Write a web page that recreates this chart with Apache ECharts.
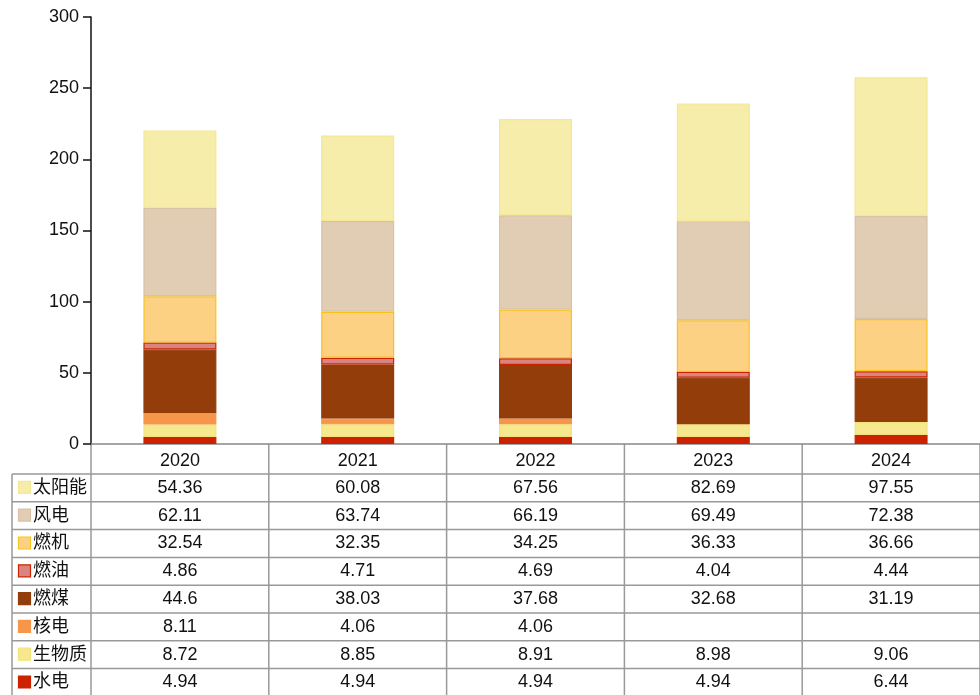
<!DOCTYPE html>
<html><head><meta charset="utf-8">
<script src="https://cdn.jsdelivr.net/npm/echarts@6/dist/echarts.min.js"></script>
<style>html,body{margin:0;padding:0;background:#fff}#c{width:980px;height:695px}</style>
</head><body><div id="c"></div>
<script>
var years = ['2020','2021','2022','2023','2024'];
var yTicks = [0,50,100,150,200,250,300];
var solar   = [54.36, 60.08, 67.56, 82.69, 97.55];
var wind    = [62.11, 63.74, 66.19, 69.49, 72.38];
var gas     = [32.54, 32.35, 34.25, 36.33, 36.66];
var oil     = [4.86, 4.71, 4.69, 4.04, 4.44];
var coal    = [44.6, 38.03, 37.68, 32.68, 31.19];
var nuclear = [8.11, 4.06, 4.06, null, null];
var biomass = [8.72, 8.85, 8.91, 8.98, 9.06];
var hydro   = [4.94, 4.94, 4.94, 4.94, 6.44];

// bottom to top
var seriesDefs = [
  {name:'水电', data:hydro, fill:'#CC2200', border:'#CC2200'},
  {name:'生物质', data:biomass, fill:'#F6E88C', border:'#F3E37A'},
  {name:'核电', data:nuclear, fill:'#F5964A', border:'#F5964A'},
  {name:'燃煤', data:coal, fill:'#933D0A', border:'#933D0A'},
  {name:'燃油', data:oil, fill:'#DA8482', border:'#CC2200'},
  {name:'燃机', data:gas, fill:'#FDD184', border:'#F9C31C'},
  {name:'风电', data:wind, fill:'#E1CDB4', border:'#D9C2A6'},
  {name:'太阳能', data:solar, fill:'#F6EDAA', border:'#F4E795'}
];

var L = 91, R = 980, TOP = 17, AXIS_Y = 444;
var colW = (R - L) / years.length;
var rowTop = 474, rowH = 27.8;
var FONT = '"Liberation Sans", "Noto Sans CJK SC", sans-serif';
var lineColor = '#999';

var chart = echarts.init(document.getElementById('c'));

var series = seriesDefs.map(function(s){
  return {
    name: s.name, type:'bar', stack:'total', barWidth:73,
    data: s.data,
    itemStyle:{color:s.fill, borderColor:s.border, borderWidth:1.2},
    emphasis:{disabled:true}
  };
});

var graphics = [];
var tableRows = seriesDefs.slice().reverse();
var nRows = tableRows.length;
var tableBottom = rowTop + nRows * rowH;
for (var r = 0; r <= nRows; r++) {
  var y = rowTop + r * rowH;
  graphics.push({type:'line', shape:{x1:12, y1:y, x2:R, y2:y}, style:{stroke:lineColor, lineWidth:1.5}});
}
graphics.push({type:'line', shape:{x1:12, y1:rowTop, x2:12, y2:tableBottom}, style:{stroke:lineColor, lineWidth:1.5}});
for (var c = 0; c <= years.length; c++) {
  var x = L + c * colW;
  graphics.push({type:'line', shape:{x1:x, y1:AXIS_Y, x2:x, y2:tableBottom}, style:{stroke:lineColor, lineWidth:1.5}});
}
tableRows.forEach(function(s, r){
  var cy = rowTop + r * rowH + rowH/2;
  graphics.push({type:'rect', shape:{x:18.5, y:cy-6.5, width:12, height:12},
    style:{fill:s.fill, stroke:s.border, lineWidth:1.2}});
  graphics.push({type:'text', x:33, y:cy, style:{text:s.name, fill:'#111', font:'18px ' + FONT, textVerticalAlign:'middle', textAlign:'left'}});
  s.data.forEach(function(v, c){
    if (v === null) return;
    graphics.push({type:'text', x:L + c*colW + colW/2, y:cy, style:{text:String(v), fill:'#111', font:'18px ' + FONT, textAlign:'center', textVerticalAlign:'middle'}});
  });
});

chart.setOption({
  animation:false,
  grid:{left:L, right:0, top:TOP, bottom:695-AXIS_Y, containLabel:false},
  xAxis:{type:'category', data:years,
    axisLine:{lineStyle:{color:'#888', width:1.5}},
    axisTick:{show:false},
    axisLabel:{color:'#111', fontSize:18, fontFamily:FONT, margin:8}
  },
  yAxis:{type:'value', min:yTicks[0], max:yTicks[yTicks.length-1], interval:50,
    axisLine:{show:true, lineStyle:{color:'#111', width:1.5}},
    axisTick:{show:true, length:8, lineStyle:{color:'#111', width:1.5}},
    splitLine:{show:false},
    axisLabel:{color:'#111', fontSize:18, fontFamily:FONT, margin:12}
  },
  series: series,
  graphic: graphics
});
</script></body></html>
